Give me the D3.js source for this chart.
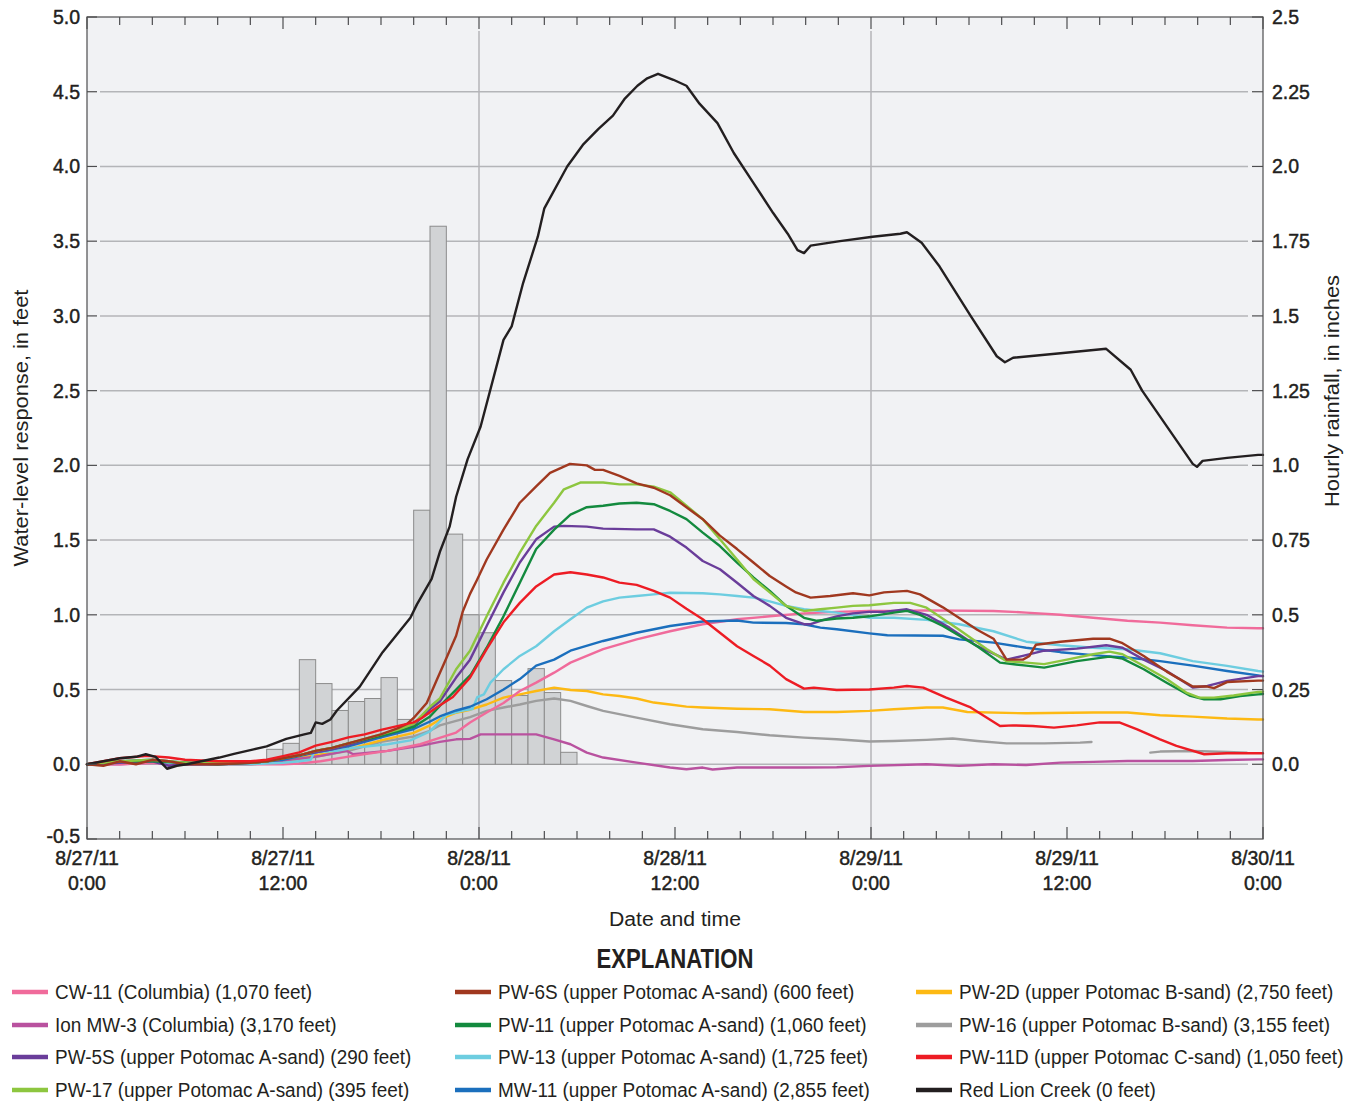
<!DOCTYPE html>
<html>
<head>
<meta charset="utf-8">
<script src="https://cdn.jsdelivr.net/npm/d3@7"></script>
<style>
  html, body { margin: 0; padding: 0; background: #ffffff; }
  svg { display: block; }
  .num { font-family: "Liberation Sans", Arial, sans-serif; font-size: 19.5px; fill: #231f20; stroke: #231f20; stroke-width: 0.45px; }
  .cond { font-family: "Liberation Sans", Arial, sans-serif; fill: #231f20; }
</style>
</head>
<body>
<svg id="chart" width="1351" height="1103"></svg>
<script>
// Hours since 8/27/11 0:00 paired with water-level response (feet)
const cw11 = [[0,0],[2,0],[4,0.01],[6,0],[8,0],[10,0],[12,0],[13,0.005],[14.3,0.02],[16.3,0.056],[18.4,0.09],[20.4,0.134],[21.4,0.17],[22.6,0.212],[23.45,0.279],[24.47,0.346],[25.5,0.41],[26.5,0.49],[27.5,0.546],[28.6,0.613],[29.6,0.68],[31.6,0.77],[33.65,0.836],[35.7,0.89],[37.7,0.937],[39.8,0.97],[41.8,0.99],[43.9,1.01],[45.9,1.02],[47.9,1.026],[49.4,1.026],[51.4,1.03],[55.5,1.026],[57.5,1.015],[59.6,1.0],[61.6,0.98],[63.7,0.96],[65.7,0.948],[67.7,0.93],[69.8,0.914],[71.7,0.91],[72,0.91]];
const ionMw3 = [[0,0],[2,0],[4,0.01],[6,0],[8,0],[10,0],[11.4,0.011],[12.65,0.033],[14.3,0.056],[15.9,0.09],[16.3,0.067],[18.4,0.09],[20.4,0.123],[21.6,0.15],[22.6,0.167],[23.45,0.17],[24.1,0.2],[25.5,0.2],[27.5,0.2],[28.6,0.167],[29.6,0.134],[30.6,0.078],[31.6,0.045],[33.65,0.011],[35.7,-0.022],[36.7,-0.033],[37.7,-0.022],[38.3,-0.035],[39.8,-0.022],[41.8,-0.022],[43.9,-0.022],[45.9,-0.02],[47.9,-0.011],[51.4,0],[53.4,-0.011],[55.5,0],[57.5,-0.005],[59.6,0.011],[61.6,0.016],[63.7,0.022],[67.7,0.022],[69.8,0.029],[71.7,0.033],[72,0.033]];
const pw5s = [[0,0],[2,0.01],[4,0.02],[5,-0.01],[6,0],[8,0],[10,0.01],[11,0.02],[12,0.04],[13,0.06],[14,0.08],[15,0.1],[16,0.13],[17,0.16],[18,0.19],[19,0.22],[20,0.26],[21,0.37],[21.6,0.42],[22.6,0.58],[23.45,0.7],[24.47,0.925],[25.5,1.15],[26.5,1.35],[27.5,1.505],[28.6,1.59],[29.2,1.595],[30.6,1.59],[31.6,1.577],[33.65,1.572],[34.7,1.572],[35.7,1.523],[36.7,1.45],[37.7,1.36],[38.75,1.305],[39.8,1.215],[40.8,1.126],[41.8,1.06],[42.8,0.98],[43.9,0.937],[44.3,0.937],[45.1,0.966],[45.9,0.99],[46.9,1.01],[47.9,1.02],[48.8,1.02],[50.2,1.037],[51.4,1.0],[52.8,0.914],[54.5,0.79],[56.3,0.7],[57.3,0.725],[58.6,0.76],[60.6,0.774],[62.4,0.796],[63.4,0.78],[64.7,0.7],[66.1,0.624],[67.7,0.513],[68.6,0.524],[69.8,0.558],[71.7,0.59],[72,0.59]];
const pw17 = [[0,0],[2,0.02],[4,0.03],[6,0.01],[8,0.01],[10,0.01],[11,0.02],[12,0.04],[13,0.06],[14,0.09],[15,0.11],[16,0.14],[17,0.17],[18,0.2],[19,0.23],[20,0.27],[21,0.385],[21.6,0.44],[22.6,0.636],[23.45,0.76],[24.47,0.99],[25.5,1.215],[26.5,1.416],[27.5,1.595],[28.6,1.75],[29.2,1.84],[30.2,1.885],[31.6,1.885],[32.6,1.873],[33.65,1.873],[34.7,1.858],[35.7,1.82],[36.7,1.73],[37.7,1.64],[38.75,1.505],[39.8,1.37],[40.8,1.24],[41.8,1.15],[42.8,1.06],[43.9,1.026],[44.9,1.037],[45.9,1.048],[46.9,1.06],[47.9,1.064],[49.4,1.08],[50.4,1.08],[51.4,1.048],[53.4,0.9],[55.1,0.77],[56.3,0.69],[57.5,0.68],[58.6,0.67],[60.0,0.7],[61.6,0.736],[62.6,0.754],[63.4,0.736],[64.7,0.658],[66.1,0.57],[67.3,0.48],[68.1,0.446],[69.0,0.446],[70.2,0.46],[71.7,0.484],[72,0.485]];
const pw6s = [[0,0],[1,-0.01],[2,0.02],[3,0],[4,0.03],[5,0.02],[6,0],[8,0],[10,0.01],[11,0.02],[12,0.04],[13,0.06],[14,0.09],[15,0.11],[16,0.14],[17,0.17],[18,0.2],[19,0.24],[19.6,0.27],[20.0,0.31],[20.8,0.41],[21.4,0.56],[22.0,0.71],[22.6,0.86],[23.0,1.02],[23.45,1.14],[23.86,1.23],[24.47,1.37],[25.5,1.57],[26.5,1.75],[27.5,1.86],[28.35,1.95],[28.96,1.98],[29.57,2.01],[30.6,2.0],[31.1,1.97],[31.6,1.97],[32.6,1.93],[33.65,1.88],[34.7,1.85],[35.7,1.8],[36.7,1.72],[37.7,1.64],[38.75,1.53],[39.8,1.44],[40.8,1.35],[41.8,1.26],[42.8,1.19],[43.4,1.15],[44.3,1.115],[45.5,1.126],[46.9,1.144],[47.9,1.13],[48.8,1.15],[50.2,1.16],[51.0,1.137],[52.4,1.05],[54.5,0.9],[55.5,0.84],[56.3,0.7],[57.3,0.7],[57.7,0.725],[58.1,0.8],[59.6,0.82],[61.6,0.84],[62.6,0.84],[63.4,0.81],[64.7,0.725],[66.1,0.62],[66.9,0.57],[67.7,0.52],[68.6,0.52],[69.0,0.51],[69.8,0.55],[71.7,0.56],[72,0.56]];
const pw11 = [[0,0],[2,0.02],[4,0.02],[6,0.01],[8,0],[10,0.01],[11,0.02],[12,0.04],[13,0.06],[14,0.09],[15,0.11],[16,0.14],[17,0.165],[18,0.19],[19,0.22],[20,0.25],[21,0.32],[21.6,0.39],[22.6,0.5],[23.5,0.6],[24.47,0.78],[25.5,0.99],[26.5,1.215],[27.5,1.44],[28.6,1.57],[29.6,1.67],[30.6,1.72],[31.6,1.73],[32.6,1.745],[33.65,1.75],[34.7,1.74],[35.7,1.695],[36.7,1.64],[37.7,1.55],[38.75,1.46],[39.8,1.35],[40.8,1.25],[41.8,1.16],[42.8,1.06],[43.9,0.98],[44.7,0.96],[45.9,0.975],[46.9,0.98],[47.9,0.99],[49.4,1.015],[50.2,1.026],[51.0,1.0],[52.4,0.925],[54.5,0.79],[55.9,0.68],[57.5,0.66],[58.6,0.647],[60.6,0.69],[62.6,0.72],[63.4,0.707],[64.7,0.636],[66.1,0.546],[67.5,0.46],[68.4,0.435],[69.4,0.435],[70.6,0.457],[71.7,0.468],[72,0.47]];
const pw13 = [[0,0],[2,0.01],[4,0.02],[6,0],[8,0],[10,0],[12,0.01],[13,0.02],[13.7,0.03],[13.9,0.078],[15.3,0.09],[16.3,0.11],[18.4,0.134],[19.8,0.16],[20.4,0.19],[21,0.22],[22,0.33],[23,0.36],[23.6,0.37],[23.9,0.45],[24.3,0.468],[24.7,0.546],[25.5,0.636],[26.5,0.725],[27.5,0.79],[28.6,0.89],[29.6,0.97],[30.6,1.048],[31.6,1.09],[32.6,1.115],[33.65,1.126],[34.7,1.137],[35.7,1.148],[37.7,1.144],[38.75,1.137],[39.8,1.126],[40.8,1.115],[41.8,1.09],[42.8,1.06],[43.9,1.037],[44.9,1.026],[45.9,1.015],[47.9,0.98],[49.4,0.98],[51.4,0.966],[53.4,0.937],[55.5,0.89],[57.5,0.82],[59.6,0.796],[61.6,0.78],[63.7,0.77],[65.7,0.743],[67.7,0.69],[69.8,0.658],[71.7,0.624],[72,0.62]];
const mw11 = [[0,0],[2,0.02],[4,0.03],[6,0.01],[8,0.01],[10,0.01],[11,0.02],[12,0.03],[14,0.08],[16,0.12],[18,0.18],[20,0.236],[21,0.286],[21.6,0.32],[22.6,0.36],[23.45,0.385],[24.47,0.435],[25.5,0.5],[26.5,0.57],[27.5,0.66],[28.6,0.7],[29.6,0.76],[31.6,0.825],[33.65,0.88],[35.7,0.925],[37.7,0.955],[39.8,0.962],[40.8,0.948],[42.8,0.945],[43.9,0.937],[44.9,0.914],[45.9,0.903],[47.9,0.876],[49.0,0.863],[52.4,0.86],[53.4,0.836],[55.5,0.814],[57.5,0.78],[59.6,0.75],[61.6,0.73],[62.8,0.72],[63.7,0.714],[65.7,0.69],[67.7,0.66],[69.8,0.624],[71.7,0.595],[72,0.59]];
const pw2d = [[0,0],[2,0.01],[4,0.02],[6,0.01],[8,0],[10,0],[12,0.02],[14,0.06],[16,0.1],[18,0.16],[20,0.21],[21,0.26],[21.6,0.3],[22.6,0.345],[23.45,0.365],[24.47,0.4],[25.5,0.446],[26.5,0.468],[27.5,0.49],[28.6,0.513],[29.6,0.497],[30.6,0.49],[31.6,0.468],[32.6,0.457],[33.65,0.44],[34.7,0.413],[35.7,0.4],[36.7,0.386],[37.7,0.38],[39.8,0.372],[41.8,0.368],[43.9,0.35],[45.9,0.35],[47.9,0.357],[49.4,0.368],[51.4,0.38],[52.4,0.38],[53.9,0.35],[57.5,0.341],[61.6,0.346],[63.7,0.346],[65.7,0.328],[67.7,0.319],[69.8,0.306],[71.7,0.3],[72,0.3]];
// PW-16 record has a gap; null marks the missing stretch
const pw16 = [[0,0],[2,0.01],[4,0.02],[6,0],[8,0],[10,0.01],[12,0.02],[14,0.05],[16,0.09],[18,0.15],[20,0.186],[21,0.224],[21.6,0.26],[22.6,0.29],[23.45,0.315],[24.47,0.357],[25.5,0.38],[26.5,0.4],[27.5,0.424],[28.6,0.44],[29.6,0.424],[30.6,0.39],[31.6,0.357],[33.65,0.312],[35.7,0.268],[37.7,0.234],[39.8,0.216],[41.8,0.194],[43.9,0.178],[45.9,0.167],[47.9,0.152],[49.4,0.156],[51.4,0.163],[53.0,0.172],[54.5,0.156],[56.3,0.14],[58.6,0.14],[60.8,0.145],[61.5,0.149],[63,null],[65.1,0.078],[65.7,0.085],[67.7,0.089],[69.8,0.083],[71.0,0.078]];
const pw11d = [[0,0],[1,0.02],[2,0.04],[3.7,0.056],[5,0.045],[6,0.03],[8,0.02],[10,0.02],[11,0.03],[12,0.055],[13,0.08],[14,0.125],[15,0.15],[16,0.18],[17,0.2],[18,0.23],[19,0.255],[20,0.28],[20.5,0.31],[21.4,0.38],[22.4,0.45],[23.45,0.58],[24.47,0.77],[25.5,0.95],[26.5,1.08],[27.5,1.19],[28.6,1.27],[29.6,1.285],[30.6,1.27],[31.6,1.25],[32.6,1.215],[33.65,1.2],[34.7,1.16],[35.7,1.115],[36.7,1.04],[37.7,0.97],[38.75,0.88],[39.8,0.79],[40.8,0.725],[41.8,0.66],[42.8,0.57],[43.9,0.506],[44.5,0.513],[45.9,0.497],[47.9,0.5],[49.4,0.513],[50.2,0.524],[51.2,0.513],[52.6,0.446],[54.1,0.38],[55.9,0.256],[56.7,0.26],[57.9,0.256],[59.2,0.245],[60.6,0.26],[62.0,0.28],[63.2,0.28],[64.3,0.234],[65.7,0.167],[66.7,0.123],[68.4,0.067],[69.8,0.074],[71.7,0.074],[72,0.074]];
const redLionCreek = [[0,0],[1,0.02],[2,0.04],[3,0.05],[3.6,0.067],[4.2,0.05],[4.9,-0.03],[5.5,-0.01],[6.1,0],[7,0.02],[8.1,0.045],[9,0.07],[10.2,0.1],[11,0.12],[12.2,0.17],[13.3,0.2],[13.7,0.21],[14.0,0.28],[14.4,0.27],[14.9,0.3],[15.3,0.36],[16.7,0.52],[18.1,0.75],[19.8,0.98],[20.2,1.07],[21.1,1.24],[21.6,1.42],[22.2,1.59],[22.6,1.79],[23.3,2.04],[24.1,2.26],[25.5,2.84],[26.0,2.93],[26.7,3.22],[27.6,3.53],[28.0,3.72],[29.4,4.0],[30.4,4.15],[31.3,4.25],[32.2,4.34],[32.9,4.45],[33.7,4.54],[34.3,4.59],[34.96,4.62],[35.9,4.58],[36.7,4.54],[37.5,4.42],[38.6,4.29],[39.6,4.09],[40.8,3.89],[42.0,3.69],[42.9,3.55],[43.5,3.44],[43.9,3.42],[44.3,3.47],[46.1,3.5],[48.1,3.53],[49.8,3.55],[50.2,3.56],[51.1,3.49],[52.2,3.33],[54.1,3.0],[55.7,2.73],[56.2,2.69],[56.7,2.72],[59.6,2.75],[62.4,2.78],[63.9,2.64],[64.6,2.5],[67.7,2.01],[67.96,1.99],[68.3,2.03],[69.8,2.05],[71.7,2.07],[72,2.07]];

// Hourly rainfall (inches): hour at which each interval starts
const rainHours = [11,12,13,14,15,16,17,18,19,20,21,22,23,24,25,26,27,28,29];
const rainInches = [0.05,0.07,0.35,0.27,0.18,0.21,0.22,0.29,0.15,0.85,1.80,0.77,0.50,0.44,0.28,0.23,0.32,0.24,0.04];

// Axis ticks and labels
const leftTicks = [-0.5,0,0.5,1,1.5,2,2.5,3,3.5,4,4.5,5];
const leftTickLabels = ["-0.5","0.0","0.5","1.0","1.5","2.0","2.5","3.0","3.5","4.0","4.5","5.0"];
const rightTicks = [0,0.25,0.5,0.75,1,1.25,1.5,1.75,2,2.25,2.5];
const rightTickLabels = ["0.0","0.25","0.5","0.75","1.0","1.25","1.5","1.75","2.0","2.25","2.5"];
const dateTickHours = [0,12,24,36,48,60,72];
const dateLabels = ["8/27/11","8/27/11","8/28/11","8/28/11","8/29/11","8/29/11","8/30/11"];
const timeLabels = ["0:00","12:00","0:00","12:00","0:00","12:00","0:00"];

const seriesNames = ["CW-11 (Columbia) (1,070 feet)","Ion MW-3 (Columbia) (3,170 feet)","PW-5S (upper Potomac A-sand) (290 feet)","PW-17 (upper Potomac A-sand) (395 feet)",
  "PW-6S (upper Potomac A-sand) (600 feet)","PW-11 (upper Potomac A-sand) (1,060 feet)","PW-13 (upper Potomac A-sand) (1,725 feet)","MW-11 (upper Potomac A-sand) (2,855 feet)",
  "PW-2D (upper Potomac B-sand) (2,750 feet)","PW-16 (upper Potomac B-sand) (3,155 feet)","PW-11D (upper Potomac C-sand) (1,050 feet)","Red Lion Creek (0 feet)"];
const seriesData = [cw11, ionMw3, pw5s, pw17, pw6s, pw11, pw13, mw11, pw2d, pw16, pw11d, redLionCreek];
const seriesColors = ["#f06b9b","#b9529f","#6a3d9a","#8dc63f","#a0381f","#138a3e","#6dcde0","#1b6fbd","#fdb913","#9d9d9d","#ed1c24","#231f20"];
// drawing order (later on top)
const drawOrder = [9,8,1,0,6,7,2,5,3,4,10,11];

const svg = d3.select("#chart");
const L = 87, R = 1263, T = 17, B = 839;

const x = d3.scaleLinear().domain([0,72]).range([L,R]);
const yL = d3.scaleLinear().domain([-0.5,5]).range([B,T]);
const yR = d3.scaleLinear().domain([-0.25,2.5]).range([B,T]);

// Condensed text: a regular sans face squeezed horizontally.
function measure(str, size, weight) {
  const t = svg.append("text").attr("class","cond").attr("font-size", size)
    .attr("font-weight", weight || "normal").text(str);
  const w = t.node().getComputedTextLength();
  t.remove();
  return w;
}
function condText(parent, str, opt) {
  const t = parent.append("text").attr("class","cond")
    .attr("font-size", opt.size).attr("font-weight", opt.weight || "normal")
    .attr("text-anchor", opt.anchor || "start").text(str);
  const k = opt.k || (opt.width / t.node().getComputedTextLength());
  t.attr("transform", `translate(${opt.x},${opt.y}) rotate(${opt.rotate || 0}) scale(${k},1)`);
  return t;
}

// plot background
svg.append("rect").attr("x",L).attr("y",T).attr("width",R-L).attr("height",B-T).attr("fill","#f1f2f4");

// horizontal grid
svg.append("g").selectAll("line").data(leftTicks.filter(d => d > -0.5 && d < 5)).join("line")
  .attr("x1",L+13).attr("x2",R-15).attr("y1",d=>yL(d)).attr("y2",d=>yL(d))
  .attr("stroke","#b4b5b8").attr("stroke-width",1.5);
// vertical grid at midnight
svg.append("g").selectAll("line").data([24,48]).join("line")
  .attr("x1",d=>x(d)).attr("x2",d=>x(d)).attr("y1",T+14).attr("y2",B)
  .attr("stroke","#b4b5b8").attr("stroke-width",1.5);

// rainfall bars
svg.append("g").selectAll("rect").data(rainHours.map((h,i)=>({h, v: rainInches[i]}))).join("rect")
  .attr("x",d=>x(d.h)).attr("width",d=>x(d.h+1)-x(d.h))
  .attr("y",d=>yR(d.v)).attr("height",d=>yR(0)-yR(d.v))
  .attr("fill","#d1d3d5").attr("stroke","#8c8c8c").attr("stroke-width",1);

// water-level lines
const line = d3.line().defined(d => d[1] !== null).x(d=>x(d[0])).y(d=>yL(d[1]));
const lg = svg.append("g");
drawOrder.forEach(i => {
  lg.append("path").datum(seriesData[i]).attr("d",line)
    .attr("fill","none").attr("stroke",seriesColors[i])
    .attr("stroke-width",2.4).attr("stroke-linejoin","round").attr("stroke-linecap","round");
});

// frame
svg.append("rect").attr("x",L).attr("y",T).attr("width",R-L).attr("height",B-T)
  .attr("fill","none").attr("stroke","#4d4d4f").attr("stroke-width",1.2);

// axis ticks (inside) and labels
const axT = svg.append("g");
leftTicks.forEach((v,i) => {
  axT.append("line").attr("x1",L).attr("x2",L+10).attr("y1",yL(v)).attr("y2",yL(v)).attr("stroke","#4d4d4f").attr("stroke-width",1.2);
  axT.append("text").attr("class","num").attr("x",L-7).attr("y",yL(v) + (v === -0.5 ? 4 : 7)).attr("text-anchor","end").text(leftTickLabels[i]);
});
rightTicks.forEach((v,i) => {
  axT.append("line").attr("x1",R-11).attr("x2",R).attr("y1",yR(v)).attr("y2",yR(v)).attr("stroke","#4d4d4f").attr("stroke-width",1.2);
  axT.append("text").attr("class","num").attr("x",R+9).attr("y",yR(v)+7).attr("text-anchor","start").text(rightTickLabels[i]);
});
// time ticks every 2 hours, longer at 12-hour marks, on top and bottom
d3.range(0,73,2).forEach(h => {
  const len = h % 12 === 0 ? 12 : 8;
  axT.append("line").attr("x1",x(h)).attr("x2",x(h)).attr("y1",B).attr("y2",B-len).attr("stroke","#4d4d4f").attr("stroke-width",1.2);
  axT.append("line").attr("x1",x(h)).attr("x2",x(h)).attr("y1",T).attr("y2",T+len).attr("stroke","#4d4d4f").attr("stroke-width",1.2);
});
dateTickHours.forEach((h,i) => {
  axT.append("text").attr("class","num").attr("x",x(h)).attr("y",865).attr("text-anchor","middle").text(dateLabels[i]);
  axT.append("text").attr("class","num").attr("x",x(h)).attr("y",890).attr("text-anchor","middle").text(timeLabels[i]);
});

// axis titles
condText(svg, "Water-level response, in feet", {x: 28, y: 428, size: 21, anchor: "middle", rotate: -90, width: 277});
condText(svg, "Hourly rainfall, in inches", {x: 1339, y: 391, size: 21, anchor: "middle", rotate: -90, width: 232});
condText(svg, "Date and time", {x: 675, y: 926, size: 21, anchor: "middle", width: 132});

// legend
condText(svg, "EXPLANATION", {x: 675, y: 968, size: 27, weight: "bold", anchor: "middle", width: 157});
const colX = [12, 455, 916];
const rowY = [992, 1025, 1057, 1090];
const legendK = 372 / measure(seriesNames[7], 20);
const leg = svg.append("g");
seriesNames.forEach((name,i) => {
  const c = Math.floor(i/4), r = i % 4;
  leg.append("line").attr("x1",colX[c]).attr("x2",colX[c]+36).attr("y1",rowY[r]).attr("y2",rowY[r])
    .attr("stroke",seriesColors[i]).attr("stroke-width",4.5);
  condText(leg, name, {x: colX[c]+43, y: rowY[r]+7, size: 20, k: legendK});
});
</script>
</body>
</html>
